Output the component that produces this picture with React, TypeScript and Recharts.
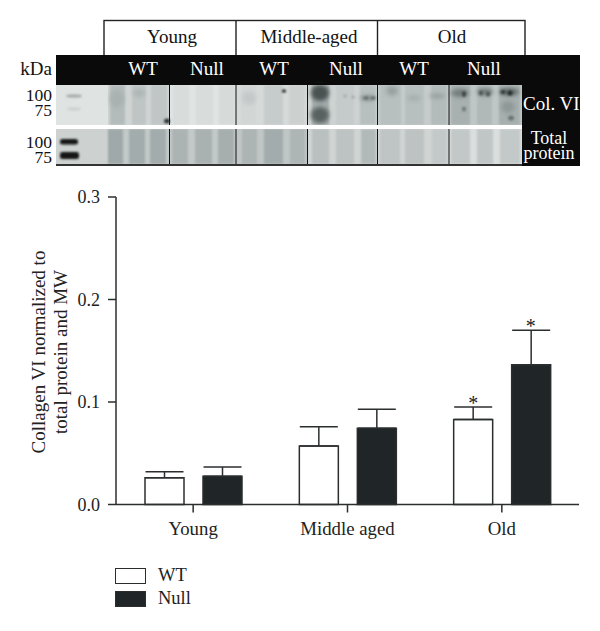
import { Bar, BarChart, ErrorBar, Label, Legend, ReferenceDot, XAxis, YAxis } from 'recharts';

const GROUPS = ['Young', 'Middle aged', 'Old'];
const WT_MEANS = [0.026, 0.057, 0.083];
const NULL_MEANS = [0.0275, 0.0743, 0.1364];
const WT_ERRORS = [0.006, 0.0188, 0.0121];
const NULL_ERRORS = [0.0091, 0.0186, 0.0336];
const Y_TICKS = [0, 0.1, 0.2, 0.3];

const INK = '#2b2e2f';
const DARK = '#202527';
const SERIF = '"Liberation Serif", serif';

const data = GROUPS.map((group, i) => ({
  group,
  wt: WT_MEANS[i],
  null: NULL_MEANS[i],
  wtErr: [0, WT_ERRORS[i]],
  nullErr: [0, NULL_ERRORS[i]],
}));

// gel picture above the chart: x0, x1, fill
const TOP_BG = [
  [56, 108, '#dfe3e2'],
  [108, 170, '#d0d5d4'],
  [170, 236, '#e0e4e3'],
  [236, 308, '#d6dad9'],
  [308, 378, '#ced3d2'],
  [378, 449, '#c6cccb'],
  [449, 522, '#c0c6c6'],
];
const TOP_LANES = [
  [110, 125, '#b4bbbb'],
  [132, 146, '#bfc5c5'],
  [151, 167, '#c0c6c6'],
  [173, 189, '#d8dcdb'],
  [196, 213, '#d8dcdb'],
  [219, 235, '#d6dad9'],
  [241, 256, '#d2d7d6'],
  [264, 283, '#c6cccb'],
  [289, 305, '#ccd1d0'],
  [312, 329, '#a3abab'],
  [336, 354, '#c5cbca'],
  [360, 376, '#b8bfbf'],
  [380, 401, '#b8bfbf'],
  [405, 424, '#b8bfbf'],
  [431, 447, '#b4bbbb'],
  [451, 470, '#a8b0b0'],
  [477, 492, '#b0b8b8'],
  [499, 520, '#a6aeae'],
];
const BOTTOM_BG = [
  [56, 108, '#cdd2d1'],
  [108, 170, '#c3c9c8'],
  [170, 236, '#c3c9c8'],
  [236, 308, '#c0c6c5'],
  [308, 378, '#d0d5d4'],
  [378, 449, '#d0d5d4'],
  [449, 522, '#dadedd'],
];
const BOTTOM_LANES = [
  [108, 123, '#a0a9a9'],
  [129, 145, '#a3acac'],
  [150, 166, '#a3acac'],
  [172, 188, '#acb4b3'],
  [195, 212, '#a9b1b1'],
  [218, 234, '#a6afae'],
  [242, 257, '#acb4b4'],
  [264, 283, '#a3acac'],
  [290, 305, '#adb5b5'],
  [312, 329, '#b9c0bf'],
  [336, 354, '#bdc3c2'],
  [361, 376, '#b2b9b9'],
  [380, 400, '#bfc5c4'],
  [405, 424, '#bdc3c2'],
  [432, 447, '#c3c9c8'],
  [451, 470, '#c2c8c7'],
  [477, 493, '#c0c6c5'],
  [500, 520, '#c3c9c8'],
];
// wide soft smudges: cx, cy, rx, ry, fill
const SMUDGES = [
  [117, 99, 7, 9, '#a9b1b1'],
  [139, 93, 6, 4, '#adb5b5'],
  [249, 98, 7, 7, '#c3c9c8'],
  [320, 93, 9, 8, '#4a5151'],
  [320, 115, 9, 8, '#586060'],
  [368, 98, 8, 2.5, '#7f8888'],
  [392, 91, 6, 5, '#99a2a2'],
  [414, 98, 7, 2.5, '#a2aaaa'],
  [437, 96, 8, 2.5, '#96a0a0'],
  [460, 93, 9, 4, '#737c7c'],
  [485, 92, 8, 3.5, '#6f7878'],
  [509, 92, 10, 3.5, '#5d6565'],
  [508, 107, 7, 6, '#8f9898'],
];
// small sharp spots: cx, cy, rx, ry, fill
const SPOTS = [
  [74, 96, 8, 1.6, '#a2a9a8'],
  [74, 109, 7, 1.6, '#cbd0cf'],
  [167, 121, 3, 2.5, '#333837'],
  [284, 91, 2, 1.5, '#111'],
  [345, 96, 2, 1.5, '#a4acab'],
  [353, 97, 2, 1.5, '#a4acab'],
  [366, 98, 2.5, 1.6, '#5f6766'],
  [373, 98, 2.5, 1.6, '#5f6766'],
  [464, 94, 2, 3, '#3e4545'],
  [464, 109, 2, 2.5, '#6f7878'],
  [481, 93, 2, 2.5, '#4a5252'],
  [488, 94, 2, 2.5, '#4a5252'],
  [503, 92, 2.5, 2, '#353b3b'],
  [510, 93, 2.5, 2.5, '#262b2b'],
  [511, 118, 3, 2.5, '#6b7373'],
];
const MARKERS = [
  [60, 139, 18, 5.5],
  [60, 152, 19, 7],
];
const DIVIDERS = [169.5, 236, 307.5, 377.5, 449];

const AGE_LABELS = [
  ['Young', 172],
  ['Middle-aged', 309],
  ['Old', 452],
] as const;
const GENOTYPE_LABELS = [
  ['WT', 143],
  ['Null', 207],
  ['WT', 274],
  ['Null', 346],
  ['WT', 414],
  ['Null', 484],
] as const;
const KDA_LABELS = [
  ['100', 101],
  ['75', 116],
  ['100', 148],
  ['75', 163],
] as const;

function GelPanel() {
  const txt = { fontFamily: SERIF, fontSize: 19 };
  return (
    <svg width={600} height={175} style={{ position: 'absolute', left: 0, top: 0 }}>
      <defs>
        <filter id="soft" x="-30%" y="-30%" width="160%" height="160%">
          <feGaussianBlur stdDeviation="2.2" />
        </filter>
        <filter id="soft2" x="-30%" y="-30%" width="160%" height="160%">
          <feGaussianBlur stdDeviation="0.9" />
        </filter>
      </defs>
      <rect x={104} y={20.5} width={421} height={36} fill="#fff" stroke="#222" strokeWidth={1.4} />
      <line x1={236} x2={236} y1={20} y2={56} stroke="#222" strokeWidth={1.4} />
      <line x1={377.5} x2={377.5} y1={20} y2={56} stroke="#222" strokeWidth={1.4} />
      <rect x={56} y={55} width={524} height={111} fill="#0a0a0a" />
      {TOP_BG.map(([a, b, c]) => (
        <rect key={`t${a}`} x={a as number} y={85} width={(b as number) - (a as number)} height={40} fill={c as string} />
      ))}
      <g filter="url(#soft2)">
        {TOP_LANES.map(([a, b, c]) => (
          <rect key={`l${a}`} x={a as number} y={85} width={(b as number) - (a as number)} height={40} fill={c as string} />
        ))}
      </g>
      <g filter="url(#soft)">
        {SMUDGES.map((s, i) => (
          <ellipse key={i} cx={s[0] as number} cy={s[1] as number} rx={s[2] as number} ry={s[3] as number} fill={s[4] as string} />
        ))}
      </g>
      <g filter="url(#soft2)">
        {SPOTS.map((s, i) => (
          <ellipse key={i} cx={s[0] as number} cy={s[1] as number} rx={s[2] as number} ry={s[3] as number} fill={s[4] as string} />
        ))}
      </g>
      <rect x={56} y={125} width={466} height={4} fill="#fff" />
      {BOTTOM_BG.map(([a, b, c]) => (
        <rect key={`b${a}`} x={a as number} y={129} width={(b as number) - (a as number)} height={35} fill={c as string} />
      ))}
      <g filter="url(#soft2)">
        {BOTTOM_LANES.map(([a, b, c]) => (
          <rect key={`m${a}`} x={a as number} y={129} width={(b as number) - (a as number)} height={35} fill={c as string} />
        ))}
        {MARKERS.map(([x, y, w, h]) => (
          <rect key={y} x={x} y={y} width={w} height={h} rx={2.5} fill="#151717" />
        ))}
      </g>
      {DIVIDERS.map((x) => (
        <line key={x} x1={x} x2={x} y1={85} y2={166} stroke="#111" strokeWidth={1} />
      ))}
      {/* covers the blur spill at the panel edges */}
      <rect x={522} y={85} width={58} height={81} fill="#0a0a0a" />
      <rect x={56} y={164} width={466} height={2} fill="#333" />
      <rect x={56} y={83} width={466} height={2} fill="#0a0a0a" />
      <rect x={56} y={125} width={466} height={4} fill="#fff" />
      {AGE_LABELS.map(([t, x]) => (
        <text key={t} x={x} y={43} textAnchor="middle" fill="#111" {...txt}>
          {t}
        </text>
      ))}
      {GENOTYPE_LABELS.map(([t, x]) => (
        <text key={x} x={x} y={75} textAnchor="middle" fill="#fff" {...txt}>
          {t}
        </text>
      ))}
      <text x={52} y={75} textAnchor="end" fill="#111" {...txt}>
        kDa
      </text>
      {KDA_LABELS.map(([t, y]) => (
        <text key={y} x={52} y={y} textAnchor="end" fill="#111" fontFamily={SERIF} fontSize={17.5}>
          {t}
        </text>
      ))}
      <text x={523} y={110} fill="#fff" {...txt}>
        Col. VI
      </text>
      <text x={549} y={144} textAnchor="middle" fill="#fff" fontFamily={SERIF} fontSize={18}>
        Total
      </text>
      <text x={549} y={159} textAnchor="middle" fill="#fff" fontFamily={SERIF} fontSize={18}>
        protein
      </text>
    </svg>
  );
}

function YAxisTitle() {
  return (
    <text
      transform="translate(45,352) rotate(-90)"
      textAnchor="middle"
      fontFamily={SERIF}
      fontSize={19}
      fill="#222"
    >
      <tspan x={0} y={0}>
        Collagen VI normalized to
      </tspan>
      <tspan x={0} y={22}>
        total protein and MW
      </tspan>
    </text>
  );
}

function LegendBox({ payload }: any) {
  return (
    <div style={{ fontFamily: SERIF, fontSize: 18.5, color: '#222' }}>
      {(payload ?? []).map((p: any) => (
        <div key={p.value} style={{ display: 'flex', alignItems: 'center', height: 23 }}>
          <span
            style={{
              display: 'inline-block',
              boxSizing: 'border-box',
              width: 31,
              height: 16,
              background: p.color,
              border: `1.5px solid ${INK}`,
              marginRight: 12,
            }}
          />
          {p.value}
        </div>
      ))}
    </div>
  );
}

function Star({ cx, cy, dx }: any) {
  return (
    <text x={cx + dx} y={cy + 3} textAnchor="middle" fontFamily={SERIF} fontSize={20} fill="#222">
      *
    </text>
  );
}

export default function App() {
  return (
    <div style={{ position: 'absolute', left: 0, top: 0, width: 600, height: 631, background: '#fff' }}>
      <GelPanel />
      <div style={{ position: 'absolute', left: 0, top: 0 }}>
        <BarChart
          width={600}
          height={631}
          data={data}
          barSize={39}
          barGap={19}
          margin={{ top: 197, right: 21, bottom: 96.5, left: 56 }}
          style={{ background: 'transparent' }}
        >
          <XAxis
            dataKey="group"
            height={30}
            tickSize={8}
            tickMargin={9}
            tickLine={{ stroke: INK, strokeWidth: 1.5 }}
            axisLine={{ stroke: INK, strokeWidth: 1.5 }}
            tick={{ fontFamily: SERIF, fontSize: 18.8, fill: '#222' }}
            interval={0}
          />
          <YAxis
            width={60}
            domain={[0, 0.3]}
            ticks={Y_TICKS}
            tickSize={8}
            tickMargin={8}
            tickFormatter={(v: number) => v.toFixed(1)}
            tickLine={{ stroke: INK, strokeWidth: 1.5 }}
            axisLine={{ stroke: INK, strokeWidth: 1.5 }}
            tick={{ fontFamily: SERIF, fontSize: 18, fill: '#222' }}
          >
            <Label content={<YAxisTitle />} />
          </YAxis>
          <Legend
            layout="vertical"
            align="center"
            verticalAlign="middle"
            itemSorter={null}
            content={<LegendBox />}
            wrapperStyle={{ left: 115, top: 564, width: 120 }}
          />
          <Bar dataKey="wt" name="WT" fill="#fff" stroke={INK} strokeWidth={1.5} isAnimationActive={false}>
            <ErrorBar dataKey="wtErr" direction="y" width={19} stroke={INK} strokeWidth={1.5} isAnimationActive={false} />
          </Bar>
          <Bar dataKey="null" name="Null" fill={DARK} stroke={INK} strokeWidth={1.5} isAnimationActive={false}>
            <ErrorBar dataKey="nullErr" direction="y" width={19} stroke={INK} strokeWidth={1.5} isAnimationActive={false} />
          </Bar>
          <ReferenceDot
            x="Old"
            y={WT_MEANS[2] + WT_ERRORS[2]}
            shape={(p: any) => <Star {...p} dx={-28.5} />}
          />
          <ReferenceDot
            x="Old"
            y={NULL_MEANS[2] + NULL_ERRORS[2]}
            shape={(p: any) => <Star {...p} dx={29} />}
          />
        </BarChart>
      </div>
    </div>
  );
}
